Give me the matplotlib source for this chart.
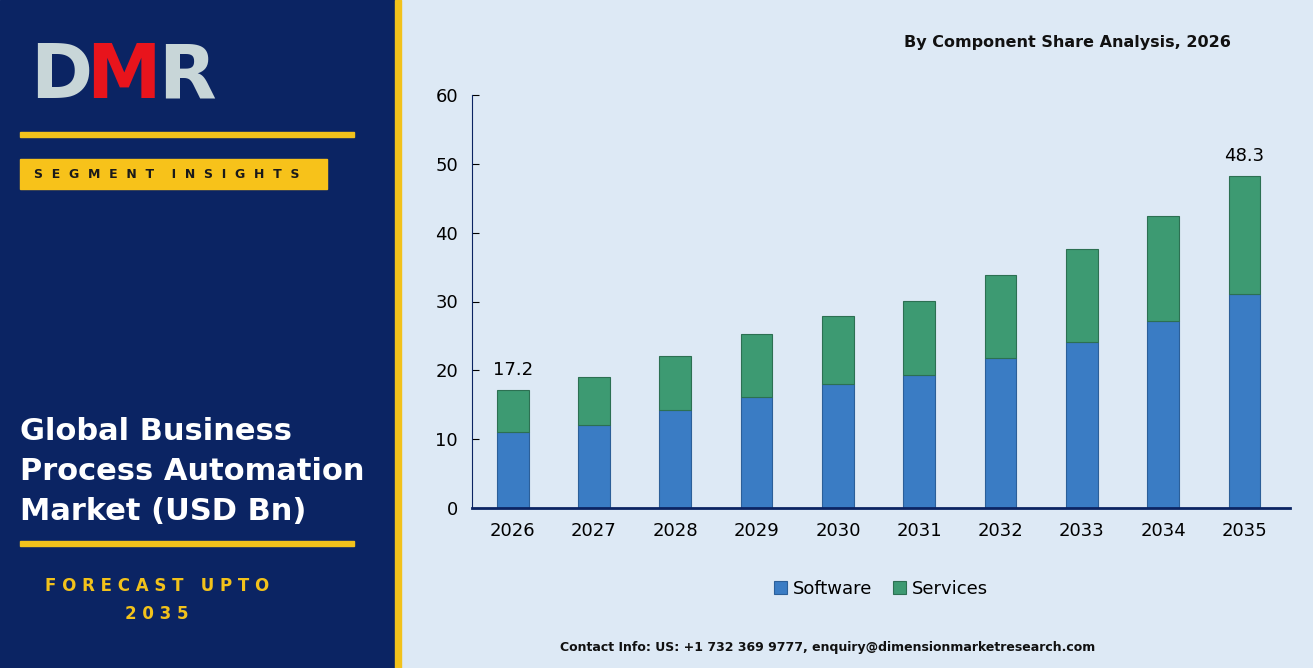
import matplotlib.pyplot as plt
from matplotlib.patches import Rectangle

years = ['2026', '2027', '2028', '2029', '2030', '2031', '2032', '2033', '2034', '2035']
software = [11.0, 12.1, 14.2, 16.1, 18.0, 19.3, 21.8, 24.1, 27.2, 31.1]
totals = [17.2, 19.0, 22.1, 25.3, 27.9, 30.1, 33.9, 37.6, 42.4, 48.3]
services = [round(t - s, 1) for t, s in zip(totals, software)]

W, H = 1313, 668
fig = plt.figure(figsize=(W / 100, H / 100), dpi=100)
fig.patch.set_facecolor('#dde9f5')

# left panel
bg = fig.add_axes([0, 0, 1, 1])
bg.set_xlim(0, W)
bg.set_ylim(H, 0)
bg.axis('off')
bg.add_patch(Rectangle((0, 0), 395, H, color='#0b2463'))
bg.add_patch(Rectangle((395, 0), 6, H, color='#f2c21b'))
bg.add_patch(Rectangle((20, 132), 334, 5, color='#f2c21b'))
bg.add_patch(Rectangle((20, 159), 307, 30, color='#f7c21a'))
bg.text(34, 175, 'S  E  G  M  E  N  T    I  N  S  I  G  H  T  S', fontsize=9,
        fontweight='bold', color='#1a1a1a', va='center')
bg.text(30, 78, 'D', fontsize=54, fontweight='bold', color='#c8d6d8', va='center')
bg.text(86, 78, 'M', fontsize=54, fontweight='bold', color='#e8141c', va='center')
bg.text(158, 78, 'R', fontsize=54, fontweight='bold', color='#c8d6d8', va='center')
for i, line in enumerate(['Global Business', 'Process Automation', 'Market (USD Bn)']):
    bg.text(20, 431 + i * 40, line, fontsize=22, fontweight='bold', color='white',
            va='center', family='DejaVu Sans')
bg.add_patch(Rectangle((20, 541), 334, 5, color='#f2c21b'))
bg.text(157, 586, 'F O R E C A S T   U P T O', fontsize=12, fontweight='bold',
        color='#f2c21b', ha='center', va='center')
bg.text(157, 614, '2 0 3 5', fontsize=12, fontweight='bold', color='#f2c21b',
        ha='center', va='center')
bg.text(1067, 43, 'By Component Share Analysis, 2026', fontsize=11.5, fontweight='bold',
        color='#111111', ha='center', va='center')
bg.text(828, 648, 'Contact Info: US: +1 732 369 9777, enquiry@dimensionmarketresearch.com',
        fontsize=9, fontweight='bold', color='#111111', ha='center', va='center')

# chart
ax = fig.add_axes([472 / W, 1 - 508 / H, (1290 - 472) / W, (508 - 95) / H])
ax.set_facecolor('none')
x = range(len(years))
ax.bar(x, software, width=0.39, color='#3a7cc4', edgecolor='#2b5f99', linewidth=0.8, label='Software')
ax.bar(x, services, bottom=software, width=0.39, color='#3d9a72', edgecolor='#2c7052',
       linewidth=0.8, label='Services')
ax.set_ylim(0, 60)
ax.set_xlim(-0.5, 9.56)
ax.set_xticks(list(x))
ax.set_xticklabels(years)
ax.set_yticks(range(0, 61, 10))
ax.tick_params(axis='both', labelsize=13, length=0, pad=10)
ax.tick_params(axis='y', length=5, direction='in')
for s in ['top', 'right']:
    ax.spines[s].set_visible(False)
ax.spines['left'].set_color('#0b2463')
ax.spines['bottom'].set_color('#0b2463')
ax.spines['bottom'].set_linewidth(2)
ax.text(0, totals[0] + 1.5, '%.1f' % totals[0], ha='center', va='bottom', fontsize=13)
ax.text(9, totals[9] + 1.5, '%.1f' % totals[9], ha='center', va='bottom', fontsize=13)
ax.legend(loc='upper center', bbox_to_anchor=(0.5, -0.135), ncol=2, frameon=False,
          fontsize=13, handlelength=0.7, handletextpad=0.3, columnspacing=1.2)

fig.savefig('out.png', dpi=100, facecolor=fig.get_facecolor())
